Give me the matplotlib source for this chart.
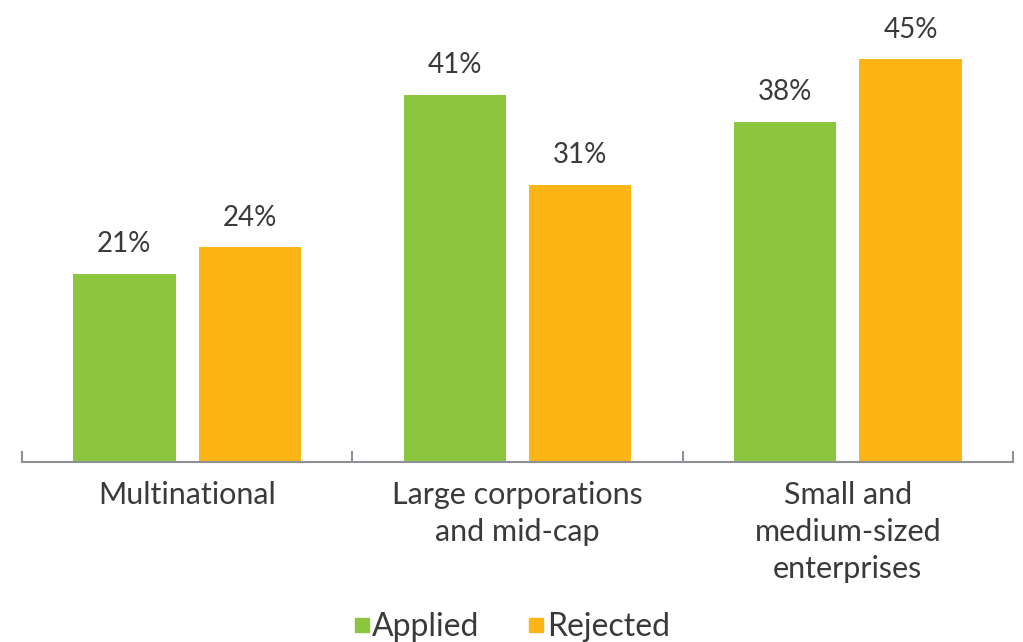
import matplotlib
matplotlib.use("Agg")
import matplotlib.pyplot as plt
from matplotlib.lines import Line2D
import numpy as np

plt.rcParams.update({
    "font.family": ["Lato", "DejaVu Sans"],
    "axes.unicode_minus": False,
})

categories = ["Multinational", "Large corporations\nand mid-cap",
              "Small and\nmedium-sized\nenterprises"]
applied = [21, 41, 38]
rejected = [24, 31, 45]
series_names = ["Applied", "Rejected"]

GREEN = "#8CC63F"
ORANGE = "#FDB515"
TEXT = "#3a3a3a"
AXIS = "#8f8f96"

fig = plt.figure(figsize=(10.23, 6.42), dpi=100)
ax = fig.add_axes([0.0215, 0.2804, 0.9687, 0.704])

x = np.arange(len(categories))
w = 0.31
off = 0.19
b1 = ax.bar(x - off, applied, w, color=GREEN)
b2 = ax.bar(x + off, rejected, w, color=ORANGE)

for bars, vals in ((b1, applied), (b2, rejected)):
    for rect, v in zip(bars, vals):
        ax.annotate(f"{v}%", (rect.get_x() + rect.get_width() / 2, v),
                    xytext=(0, 12), textcoords="offset points",
                    ha="center", va="bottom", fontsize=20, color=TEXT)

ax.set_xlim(-0.5, len(categories) - 0.5)
ax.set_ylim(0, 50.5)
for s in ("top", "right", "left"):
    ax.spines[s].set_visible(False)
ax.spines["bottom"].set_color(AXIS)
ax.spines["bottom"].set_linewidth(1.5)
ax.set_yticks([])

ax.set_xticks(x)
ax.set_xticklabels(categories, fontsize=22, color=TEXT, linespacing=1.38)
ax.tick_params(axis="x", which="major", length=0, pad=14)
ax.set_xticks(np.arange(-0.5, len(categories)), minor=True)
ax.tick_params(axis="x", which="minor", direction="in", length=8,
               width=1.5, color=AXIS)

handles = [Line2D([], [], marker="s", linestyle="none", markersize=10,
                  markerfacecolor=c, markeredgecolor=c)
           for c in (GREEN, ORANGE)]
leg = fig.legend(handles, series_names, loc="lower center",
                 bbox_to_anchor=(0.5, -0.045), ncol=2, frameon=False,
                 fontsize=23, handlelength=0.55, handletextpad=0.05,
                 columnspacing=1.5, labelcolor=TEXT)

fig.savefig("out.png", dpi=100)
